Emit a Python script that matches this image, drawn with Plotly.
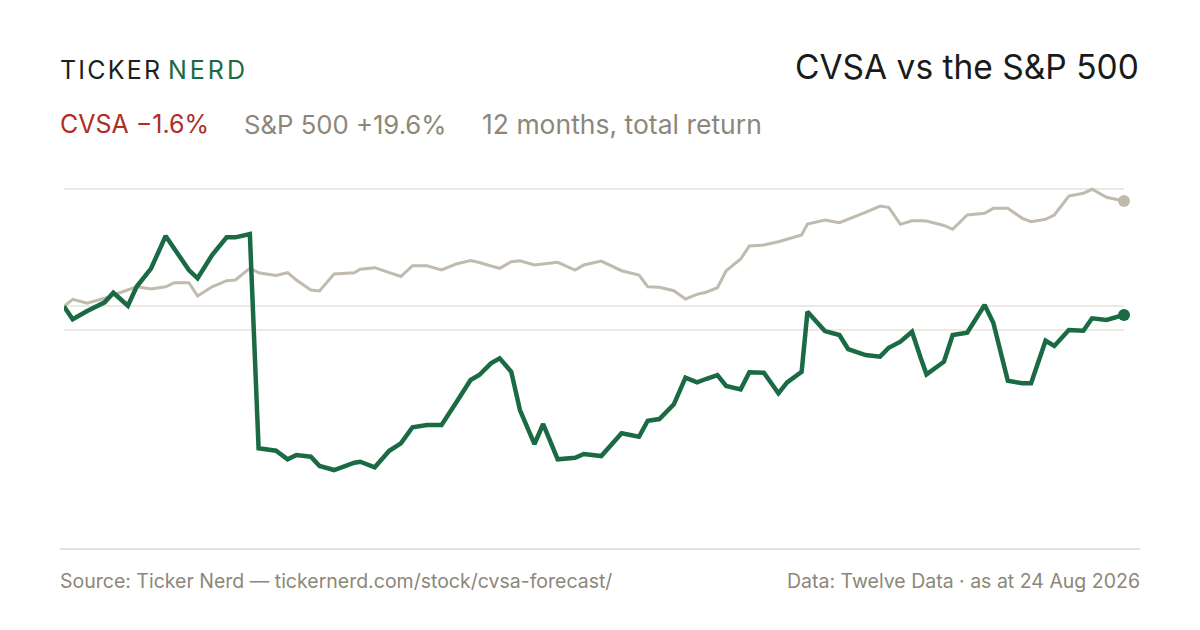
import pandas as pd
import plotly.graph_objects as go

# day offsets from the start of the 12 month window (shared by both series)
days = [0, 3, 8, 14, 17, 22, 25, 30, 35, 38, 43, 46, 51, 56, 59, 64, 67, 73,
        77, 80, 85, 88, 93, 100, 102, 107, 112, 116, 120, 125, 130, 135, 140,
        143, 147, 150, 154, 157, 162, 165, 170, 176, 179, 185, 192, 198, 201,
        205, 210, 214, 218, 221, 225, 228, 233, 236, 241, 246, 249, 254, 256,
        262, 267, 270, 276, 281, 284, 288, 292, 295, 297, 303, 306, 311, 317,
        320, 325, 330, 333, 338, 341, 346, 351, 354, 359, 365]

# total return, %
cvsa = [0.0, -2.40, -0.86, 0.76, 2.55, 0.13, 3.66, 7.09, 13.09, 10.68, 6.77,
        5.23, 9.56, 12.85, 12.85, 13.46, -26.39, -26.84, -28.44, -27.64,
        -27.95, -29.68, -30.43, -29.07, -28.88, -29.92, -26.84, -25.46,
        -22.48, -22.06, -22.06, -17.91, -13.69, -12.76, -10.58, -9.65,
        -12.14, -19.27, -25.59, -21.87, -28.44, -28.14, -27.45, -27.82,
        -23.60, -24.23, -21.26, -20.94, -18.21, -13.26, -14.12, -13.50,
        -12.76, -14.80, -15.42, -12.26, -12.33, -16.16, -14.12, -12.14,
        -0.99, -4.58, -5.32, -7.92, -9.04, -9.35, -7.68, -6.56, -4.71,
        -9.60, -12.63, -10.28, -5.32, -4.89, 0.26, -3.03, -13.82, -14.30,
        -14.30, -6.38, -7.36, -4.39, -4.52, -2.21, -2.53, -1.60]

spx = [0.0, 1.32, 0.58, 1.51, 2.12, 3.05, 3.66, 3.24, 3.66, 4.41, 4.41, 1.93,
       3.66, 4.78, 4.91, 7.09, 6.27, 5.75, 6.27, 4.91, 3.05, 2.86, 6.03,
       6.27, 6.90, 7.20, 6.21, 5.56, 7.57, 7.57, 6.77, 7.89, 8.54, 8.16,
       7.51, 7.09, 8.31, 8.50, 7.70, 7.89, 8.20, 6.77, 7.70, 8.44, 6.64,
       5.84, 3.66, 3.55, 2.92, 1.38, 2.25, 2.62, 3.48, 6.64, 8.82, 11.23,
       11.42, 12.03, 12.53, 13.28, 15.32, 16.07, 15.57, 16.20, 17.50, 18.67,
       18.43, 15.27, 15.94, 15.94, 15.88, 15.05, 14.34, 17.00, 17.31, 18.24,
       18.24, 16.38, 15.75, 16.20, 17.00, 20.53, 21.03, 21.78, 20.29, 19.60]

grid_vals = [-4.3, 0, 21.8]

start = pd.Timestamp("2025-08-24")
dates = start + pd.to_timedelta(days, unit="D")

GREEN = "#1a6a43"
GREY_LINE = "#c1bbaf"
GREY_TEXT = "#8c8779"
RED = "#ad2d26"
FONT = "Inter"

fig = go.Figure()
fig.add_trace(go.Scatter(x=dates, y=spx, mode="lines", line=dict(color=GREY_LINE, width=3),
                         name="S&P 500", hoverinfo="skip"))
fig.add_trace(go.Scatter(x=dates, y=cvsa, mode="lines", line=dict(color=GREEN, width=4.5),
                         name="CVSA", hoverinfo="skip"))
fig.add_trace(go.Scatter(x=[dates[-1]], y=[spx[-1]], mode="markers", cliponaxis=False,
                         marker=dict(color=GREY_LINE, size=12), hoverinfo="skip"))
fig.add_trace(go.Scatter(x=[dates[-1]], y=[cvsa[-1]], mode="markers", cliponaxis=False,
                         marker=dict(color=GREEN, size=12), hoverinfo="skip"))

# the page puts the figure 8px in from the top-left corner
OFF = 8
# plot area in screen px: x 64..1124, y 170..530
L, R, T, B = 64 - OFF, 1124 - OFF, 170 - OFF, 530 - OFF
W, H = R - L, B - T


def px(x):
    return (x - OFF - L) / W


def py(y):
    return (B - (y - OFF)) / H


anns = [
    dict(x=px(60), y=py(70), xanchor="left",
         text='<span style="letter-spacing:2.2px">TICKER</span>',
         font=dict(size=25, color="#1f1f1f")),
    dict(x=px(168), y=py(70), xanchor="left",
         text='<span style="letter-spacing:3px">NERD</span>',
         font=dict(size=25, color=GREEN)),
    dict(x=px(1139), y=py(67), xanchor="right", text="CVSA vs the S&P 500",
         font=dict(size=33.5, color="#1a1a1a")),
    dict(x=px(60), y=py(124), xanchor="left", text="CVSA \u22121.6%", font=dict(size=25, color=RED)),
    dict(x=px(244), y=py(124), xanchor="left", text="S&P 500 +19.6%", font=dict(size=25.7, color=GREY_TEXT)),
    dict(x=px(482), y=py(124), xanchor="left", text="12 months, total return",
         font=dict(size=26.5, color=GREY_TEXT)),
    dict(x=px(60), y=py(581), xanchor="left",
         text="Source: Ticker Nerd \u2014 tickernerd.com/stock/cvsa-forecast/",
         font=dict(size=19.5, color=GREY_TEXT)),
    dict(x=px(1140), y=py(581), xanchor="right",
         text="Data: Twelve Data \u00b7 as at 24 Aug 2026",
         font=dict(size=19.5, color=GREY_TEXT)),
]
for a in anns:
    a.update(xref="paper", yref="paper", yanchor="middle", showarrow=False,
             borderpad=0, borderwidth=0)
    a["font"]["family"] = FONT

fig.update_layout(
    width=1200, height=630,
    margin=dict(l=L, r=1200 - R, t=T, b=630 - B),
    paper_bgcolor="white", plot_bgcolor="white",
    showlegend=False,
    font=dict(family=FONT),
    annotations=anns,
    shapes=[dict(type="line", xref="paper", yref="paper", x0=px(60), x1=px(1140),
                 y0=py(549), y1=py(549), line=dict(color="#dcd7cc", width=1.5))],
    xaxis=dict(range=[dates[0], dates[-1]], showgrid=False, zeroline=False,
               showticklabels=False, showline=False, ticks=""),
    yaxis=dict(range=[-41.58, 25.37], tickvals=grid_vals, showticklabels=False,
               gridcolor="#ece9e3", gridwidth=1.5, zeroline=False, showline=False, ticks=""),
)

fig.write_html("out.html")
